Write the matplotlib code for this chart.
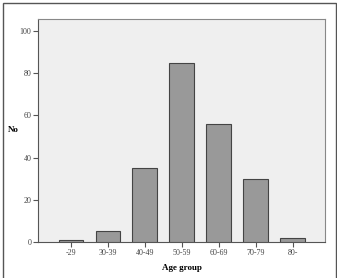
import matplotlib
matplotlib.use("Agg")
import matplotlib.pyplot as plt
from matplotlib.patches import Rectangle

categories = ["-29", "30-39", "40-49", "50-59", "60-69", "70-79", "80-"]
counts = [1, 5, 35, 85, 56, 30, 2]
yticks = [0, 20, 40, 60, 80, 100]

plt.rcParams['font.family'] = ['Liberation Serif', 'DejaVu Serif']

fig = plt.figure(figsize=(3.37, 2.78), dpi=100)
fig.patch.set_facecolor("white")
fig.patches.append(Rectangle((0.009, -0.02), 0.988, 1.01, transform=fig.transFigure,
                             fill=False, edgecolor="#555555", linewidth=1.0))

ax = fig.add_axes([0.1142, 0.1295, 0.8502, 0.8022])
ax.set_facecolor("#efefef")
x = range(len(categories))
ax.bar(x, counts, width=0.67, color="#999999", edgecolor="#444444", linewidth=0.8, zorder=3)
ax.set_xlim(-0.88, 6.88)
ax.set_ylim(0, 105.7)
ax.set_xticks(list(x))
ax.set_xticklabels(categories, fontsize=5.8, color="#444444")
ax.set_yticks(yticks)
ax.set_yticklabels([str(v) for v in yticks], fontsize=5.8, color="#444444")
ax.tick_params(axis="both", length=3.5, width=0.8, color="#555555", pad=1.5)
for s in ax.spines.values():
    s.set_color("#888888")
    s.set_linewidth(0.8)
ax.spines["left"].set_color("#555555")
ax.spines["bottom"].set_color("#555555")
ax.set_xlabel("Age group", fontsize=6.5, fontweight="bold", labelpad=5)
ax.set_ylabel("No", fontsize=6.5, fontweight="bold", rotation=0, labelpad=5, va="center")

fig.savefig("out.png", dpi=100)
